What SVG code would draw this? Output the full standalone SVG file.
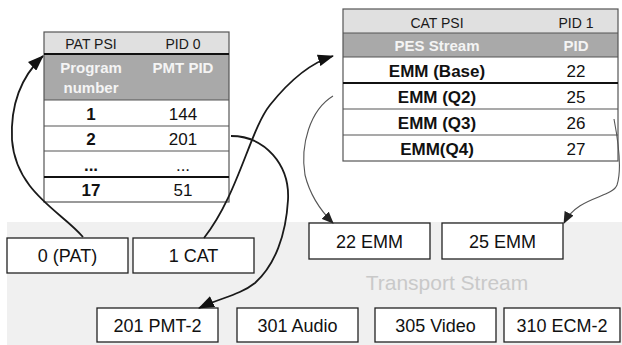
<svg xmlns="http://www.w3.org/2000/svg" width="622" height="345" viewBox="0 0 622 345">
  <style>
    .box { fill: #ffffff; stroke: #222222; stroke-width: 1.3; }
    .lbl { font-family: "Liberation Sans", Arial, sans-serif; font-size: 18px; fill: #111111; text-anchor: middle; }
    .tbl { font-family: "Liberation Sans", Arial, sans-serif; text-anchor: middle; fill: #111111; }
    .hdr { font-size: 14px; fill: #1a1a1a; }
    .sub { font-size: 15px; font-weight: bold; fill: #f4f4f4; }
    .cell { font-size: 17px; }
    .b { font-weight: bold; }
    .hdrfill { fill: #e0e0e0; }
    .subfill { fill: #a9a9a9; }
    .frame { fill: none; stroke: #555555; stroke-width: 1.2; }
    .rule { stroke: #555555; stroke-width: 1.2; }
    .thick { stroke: #111111; stroke-width: 2.2; }
    .link { fill: none; stroke: #1a1a1a; stroke-width: 1.8; }
    .thin { fill: none; stroke: #555555; stroke-width: 1.1; }
  </style>
  <defs>
    <marker id="head" markerUnits="userSpaceOnUse" markerWidth="16" markerHeight="12" refX="15" refY="6" orient="auto">
      <path d="M0,0 L16,6 L0,12 Z" fill="#111111"/>
    </marker>
    <marker id="headSmall" markerUnits="userSpaceOnUse" markerWidth="12" markerHeight="10" refX="11" refY="5" orient="auto">
      <path d="M0,0 L12,5 L0,10 Z" fill="#222222"/>
    </marker>
  </defs>

  <rect width="622" height="345" fill="#ffffff"/>

  <!-- transport stream band -->
  <g id="transport-stream">
    <rect x="7" y="222" width="615" height="123" fill="#f0f0f0"/>
    <text x="447" y="290" font-family="Liberation Sans, Arial, sans-serif" font-size="21" fill="#c9c9c9" text-anchor="middle">Transport Stream</text>
  </g>

  <!-- PAT table -->
  <g id="pat-table" class="tbl">
    <rect x="44" y="32" width="185" height="22" class="hdrfill"/>
    <rect x="44" y="54" width="185" height="46" class="subfill"/>
    <rect x="44" y="100" width="185" height="102" fill="#ffffff"/>
    <rect x="44" y="32" width="185" height="170" class="frame"/>
    <line x1="44" y1="54" x2="229" y2="54" class="thick"/>
    <line x1="44" y1="100" x2="229" y2="100" class="rule"/>
    <line x1="44" y1="126" x2="229" y2="126" class="rule"/>
    <line x1="44" y1="151" x2="229" y2="151" class="rule"/>
    <line x1="44" y1="177" x2="229" y2="177" class="thick"/>
    <text x="91" y="49" class="hdr">PAT PSI</text>
    <text x="183" y="49" class="hdr">PID 0</text>
    <text x="91" y="73" class="sub">Program</text>
    <text x="91" y="93" class="sub">number</text>
    <text x="183" y="73" class="sub">PMT PID</text>
    <text x="91" y="120" class="cell b">1</text>
    <text x="183" y="120" class="cell">144</text>
    <text x="91" y="145" class="cell b">2</text>
    <text x="183" y="145" class="cell">201</text>
    <text x="91" y="171" class="cell b">...</text>
    <text x="183" y="171" class="cell">...</text>
    <text x="91" y="196" class="cell b">17</text>
    <text x="183" y="196" class="cell">51</text>
  </g>

  <!-- CAT table -->
  <g id="cat-table" class="tbl">
    <rect x="343" y="9" width="275" height="24" class="hdrfill"/>
    <rect x="343" y="33" width="275" height="24" class="subfill"/>
    <rect x="343" y="57" width="275" height="104" fill="#ffffff"/>
    <rect x="343" y="9" width="275" height="152" class="frame"/>
    <line x1="343" y1="33" x2="618" y2="33" class="rule"/>
    <line x1="343" y1="57" x2="618" y2="57" class="rule"/>
    <line x1="343" y1="83" x2="618" y2="83" class="thick"/>
    <line x1="343" y1="109" x2="618" y2="109" class="rule"/>
    <line x1="343" y1="135" x2="618" y2="135" class="rule"/>
    <text x="437" y="28" class="hdr">CAT PSI</text>
    <text x="576" y="28" class="hdr">PID 1</text>
    <text x="437" y="51" class="sub">PES Stream</text>
    <text x="576" y="51" class="sub">PID</text>
    <text x="437" y="77" class="cell b">EMM (Base)</text>
    <text x="576" y="77" class="cell">22</text>
    <text x="437" y="103" class="cell b">EMM (Q2)</text>
    <text x="576" y="103" class="cell">25</text>
    <text x="437" y="129" class="cell b">EMM (Q3)</text>
    <text x="576" y="129" class="cell">26</text>
    <text x="437" y="155" class="cell b">EMM(Q4)</text>
    <text x="576" y="155" class="cell">27</text>
  </g>

  <!-- packet boxes -->
  <g id="pid-0">
    <rect x="7" y="238" width="121" height="35" class="box"/>
    <text x="67.5" y="262" class="lbl">0 (PAT)</text>
  </g>
  <g id="pid-1">
    <rect x="133" y="238" width="121" height="35" class="box"/>
    <text x="193.5" y="262" class="lbl">1 CAT</text>
  </g>
  <g id="pid-22">
    <rect x="309" y="223" width="121" height="36" class="box"/>
    <text x="369.5" y="247.5" class="lbl">22 EMM</text>
  </g>
  <g id="pid-25">
    <rect x="442" y="223" width="121" height="36" class="box"/>
    <text x="502.5" y="247.5" class="lbl">25 EMM</text>
  </g>
  <g id="pid-201">
    <rect x="97" y="308" width="121" height="34" class="box"/>
    <text x="157.5" y="332" class="lbl">201 PMT-2</text>
  </g>
  <g id="pid-301">
    <rect x="237" y="308" width="121" height="34" class="box"/>
    <text x="297.5" y="332" class="lbl">301 Audio</text>
  </g>
  <g id="pid-305">
    <rect x="375" y="308" width="121" height="34" class="box"/>
    <text x="435.5" y="332" class="lbl">305 Video</text>
  </g>
  <g id="pid-310">
    <rect x="504" y="308" width="116" height="34" class="box"/>
    <text x="562" y="332" class="lbl">310 ECM-2</text>
  </g>

  <!-- connectors -->
  <g id="connectors">
    <path d="M83,237 C62,212 16,192 12,140 C10,100 24,74 43,56" class="link" marker-end="url(#head)"/>
    <path d="M204,238 C238,195 250,130 270,105 C290,80 310,63 333,56" class="link" marker-end="url(#head)"/>
    <path d="M231,136 C265,136 290,165 288,200 C286,235 275,265 255,283 C240,295 220,298 199,308" class="link" marker-end="url(#head)"/>
    <path d="M333,96 C310,110 300,145 305,175 C310,195 320,210 333,223" class="thin" marker-end="url(#headSmall)"/>
    <path d="M614,119 C618,140 622,170 617,185 C612,198 578,196 564,223" class="thin" marker-end="url(#headSmall)"/>
  </g>
</svg>
